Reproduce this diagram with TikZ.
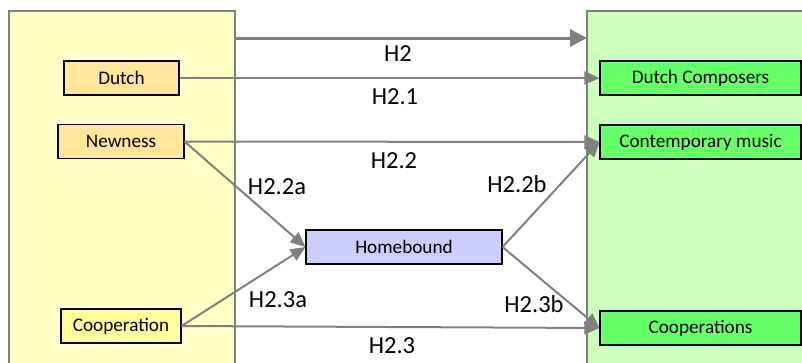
\documentclass[tikz,border=0pt]{standalone}
\usepackage{fontspec}
\setmainfont{Carlito}
\usetikzlibrary{arrows.meta}
\definecolor{panelY}{RGB}{255,255,198}
\definecolor{panelG}{RGB}{204,255,187}
\definecolor{boxO}{RGB}{255,230,153}
\definecolor{boxY}{RGB}{255,255,153}
\definecolor{boxB}{RGB}{204,204,255}
\definecolor{boxG}{RGB}{102,255,102}
\definecolor{link}{RGB}{128,128,128}
\tikzset{
  panel/.style={draw=link, line width=1.6pt, anchor=north west, inner sep=0pt},
  var/.style={draw=black, line width=1.1pt, minimum height=34pt, inner sep=0pt,
    font=\fontsize{19.2}{21}\selectfont},
  path/.style={draw=link, line width=2pt, -{Triangle[length=15pt,width=13pt]}},
  mainpath/.style={draw=link, line width=3pt, -{Triangle[length=17pt,width=17pt]}},
  hyp/.style={font=\fontsize{24.5}{26}\selectfont, inner sep=0pt}
}
\begin{document}
\begin{tikzpicture}[x=1pt,y=-1pt]
\useasboundingbox (0,0) rectangle (802,362);
% the two panels: predictors on the left, outcomes on the right
\node[panel, fill=panelY, minimum width=226pt, minimum height=360pt] (lp) at (8,10) {};
\node[panel, fill=panelG, minimum width=230pt, minimum height=360pt] (rp) at (586,10) {};
% predictor variables
\node[var, fill=boxO, minimum width=115pt] (dutch) at (121.5,78) {Dutch};
\node[var, fill=boxO, minimum width=126pt] (new) at (121,141.5) {Newness};
\node[var, fill=boxY, minimum width=120pt] (coop) at (121,326) {Cooperation};
% mediator
\node[var, fill=boxB, minimum width=196pt] (home) at (404,247) {Homebound};
% outcome variables
\node[var, fill=boxG, minimum width=201pt] (dc) at (700.5,78) {Dutch Composers};
\node[var, fill=boxG, minimum width=201pt] (cm) at (700.5,142) {Contemporary music};
\node[var, fill=boxG, minimum width=201pt] (co) at (700.5,328) {Cooperations};
% overall effect between the panels
\coordinate (h2s) at (234,38);
\coordinate (h2e) at (587,38);
\draw[mainpath] (h2s) -- (h2e);
% direct and mediated paths
\draw[path] (dutch.east) -- (dc.west);
\draw[path] (new.east) -- (cm.west);
\draw[path] (new.east) -- (home.west);
\draw[path] (coop.east) -- (home.west);
\draw[path] (home.east) -- (cm.west);
\draw[path] (home.east) -- (co.west);
\draw[path] (coop.east) -- (co.west);
% hypothesis labels
\node[hyp] (l2) at (398,54) {H2};
\node[hyp] (l21) at (395,97) {H2.1};
\node[hyp] (l22) at (394,161) {H2.2};
\node[hyp] (l22a) at (277,187) {H2.2a};
\node[hyp] (l23a) at (278,300) {H2.3a};
\node[hyp] (l22b) at (517,184) {H2.2b};
\node[hyp] (l23b) at (534,304) {H2.3b};
\node[hyp] (l23) at (392,346) {H2.3};
\end{tikzpicture}
\end{document}
